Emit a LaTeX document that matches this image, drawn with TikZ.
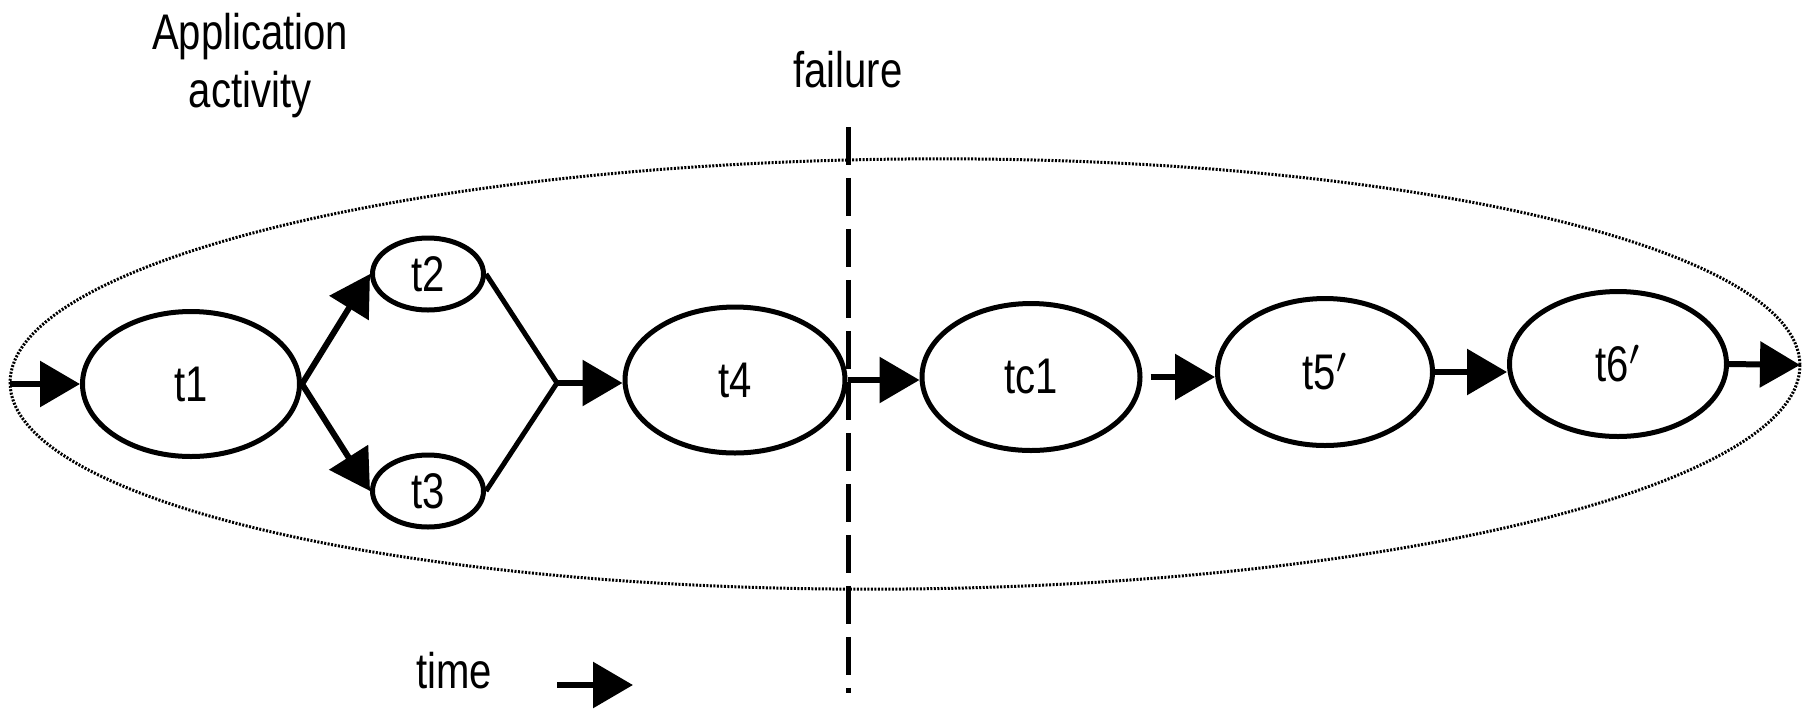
\documentclass[tikz,border=0pt]{standalone}
\usepackage{fontspec}
\newfontfamily\nfont[FakeStretch=0.8]{Liberation Sans}
\usetikzlibrary{shapes.geometric,arrows.meta}
\tikzset{
  task/.style={ellipse, draw=black, line width=0.1cm, inner sep=0pt, font=\nfont\fontsize{28.5pt}{34pt}\selectfont},
  conn/.style={line width=0.12cm, -{Triangle[length=0.8cm,width=0.9cm]}},
  plain/.style={line width=0.1cm},
  lbl/.style={inner sep=0pt, font=\nfont\fontsize{28.5pt}{33pt}\selectfont, text=black},
  failline/.style={line width=0.1cm, dash pattern=on 0.76cm off 0.26cm},
  scopeell/.style={line width=0.06cm, dash pattern=on 0.04cm off 0.03cm}
}
\begin{document}
\begin{tikzpicture}[x=0.02cm,y=-0.02cm]
\useasboundingbox (0,0) rectangle (1803,708);
% big dotted ellipse
\draw[scopeell, rotate around={0.58:(905,374)}] (905,374) ellipse [x radius=895, y radius=215];
% tasks
\node[task, minimum width=0.02cm*217, minimum height=0.02cm*145] (t1) at (191,384) {t1};
\node[task, minimum width=0.02cm*111, minimum height=0.02cm*72] (t2) at (428,274) {t2};
\node[task, minimum width=0.02cm*111, minimum height=0.02cm*72] (t3) at (428,491) {t3};
\node[task, minimum width=0.02cm*220, minimum height=0.02cm*146] (t4) at (735,380) {t4};
\node[task, minimum width=0.02cm*218, minimum height=0.02cm*147] (tc1) at (1031,377) {tc1};
\node[task, minimum width=0.02cm*215, minimum height=0.02cm*147] (t5) at (1325,372) {t5$'$};
\node[task, minimum width=0.02cm*217, minimum height=0.02cm*145] (t6) at (1618,364) {t6$'$};
% coordinates
\coordinate (s) at (10,384);
\coordinate (m) at (557,383);
\coordinate (e) at (1800,365);
\coordinate (f1) at (848,127);
\coordinate (f2) at (848,693);
\coordinate (ta) at (557,685);
\coordinate (tb) at (633,685);
% connectors
\draw[conn] (s) -- (t1.west);
\draw[conn] (t1.east) -- (t2.west);
\draw[conn] (t1.east) -- (t3.west);
\draw[plain] (t2.east) -- (m);
\draw[plain] (t3.east) -- (m);
\draw[conn] (m) -- (m -| t4.west);
\draw[conn] (t4.east) -- (t4.east -| tc1.west);
\draw[conn, shorten <=0.16cm] (tc1.east) -- (tc1.east -| t5.west);
\draw[conn] (t5.east) -- (t5.east -| t6.west);
\draw[conn] (t6.east) -- (e);
% failure line
\draw[failline] (f1) -- (f2);
% labels
\node[lbl, align=center, anchor=north] (app) at (250,13) {Application\\activity};
\node[lbl, anchor=base] (fail) at (848,87) {failure};
\node[lbl, anchor=base west] (time) at (416,688) {time};
\draw[conn] (ta) -- (tb);
\end{tikzpicture}
\end{document}
